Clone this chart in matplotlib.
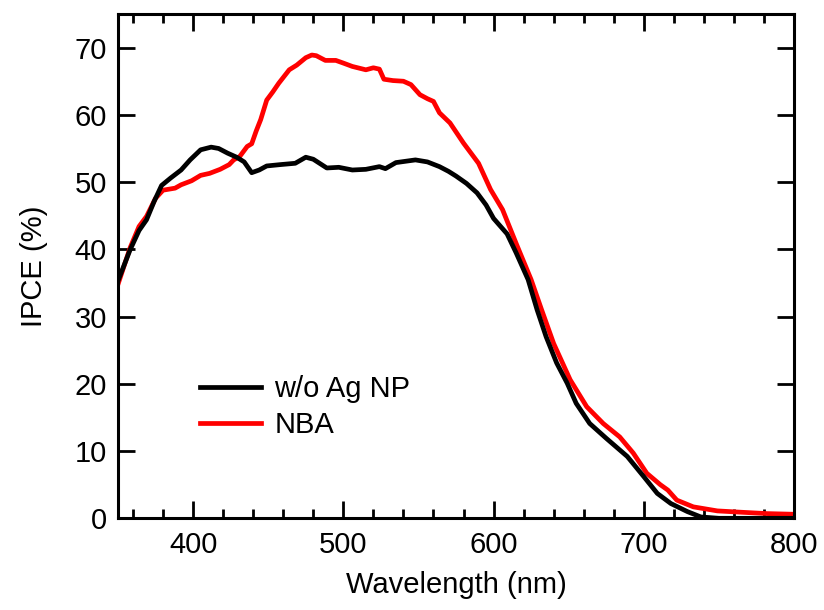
import matplotlib
matplotlib.use("Agg")
import matplotlib.pyplot as plt
from matplotlib.ticker import MultipleLocator

# Data
wl_ref = [350, 358, 364, 369, 374, 379, 385, 392, 398, 405, 412, 417, 423, 429, 434, 439,
          444, 449, 458, 468, 475, 480, 489, 497, 506, 515, 524, 528, 535, 548, 556, 564,
          570, 575, 582, 589, 595, 600, 609, 615, 623, 629, 635, 642, 649, 655, 664, 675,
          689, 700, 709, 718, 729, 738, 750, 780, 800]
ipce_ref = [35.3, 39.9, 42.8, 44.4, 47.1, 49.5, 50.6, 51.8, 53.3, 54.8, 55.2, 55.0, 54.3, 53.7, 53.0, 51.4,
            51.8, 52.4, 52.6, 52.8, 53.7, 53.4, 52.1, 52.2, 51.8, 51.9, 52.3, 52.0, 52.9, 53.3, 53.0, 52.3,
            51.6, 50.9, 49.8, 48.4, 46.6, 44.6, 42.3, 39.5, 35.5, 31.0, 27.0, 23.1, 20.1, 17.1, 14.1, 11.9,
            9.2, 6.2, 3.7, 2.2, 1.0, 0.2, 0.0, 0.0, 0.0]

wl_nba = [350, 358, 364, 369, 375, 380, 388, 392, 399, 405, 411, 418, 424, 427, 431, 436,
          439, 442, 445, 449, 453, 457, 464, 469, 475, 479, 482, 488, 495, 500, 506, 515,
          520, 524, 527, 533, 540, 545, 551, 556, 560, 564, 571, 580, 590, 598, 606, 615,
          625, 632, 640, 651, 662, 673, 684, 693, 702, 711, 716, 722, 733, 749, 765, 782, 800]
ipce_nba = [34.8, 40.2, 43.4, 44.9, 47.6, 48.8, 49.1, 49.6, 50.2, 51.0, 51.3, 51.9, 52.6, 53.3, 53.8, 55.3,
            55.7, 57.6, 59.3, 62.2, 63.4, 64.7, 66.7, 67.4, 68.5, 68.9, 68.8, 68.1, 68.1, 67.7, 67.2, 66.7,
            67.0, 66.8, 65.3, 65.1, 65.0, 64.5, 63.0, 62.4, 62.0, 60.3, 58.8, 55.8, 52.8, 48.9, 45.9, 40.9,
            35.5, 31.0, 26.0, 20.6, 16.6, 14.1, 12.1, 9.7, 6.7, 5.0, 4.2, 2.7, 1.7, 1.1, 0.9, 0.7, 0.6]

series_labels = ["w/o Ag NP", "NBA"]

plt.rcParams['font.family'] = ['Liberation Sans', 'DejaVu Sans']

fig = plt.figure(figsize=(8.24, 6.10), dpi=100)
ax = fig.add_axes([118/824, 1 - 518.3/610, (794-118)/824, (518.3-14)/610])

ax.plot(wl_nba, ipce_nba, color='#ff0000', lw=3.4, label=series_labels[1], zorder=2)
ax.plot(wl_ref, ipce_ref, color='black', lw=3.4, label=series_labels[0], zorder=3)

ax.set_xlim(350, 800)
ax.set_ylim(0, 75)
ax.xaxis.set_major_locator(MultipleLocator(100))
ax.xaxis.set_minor_locator(MultipleLocator(20))
ax.yaxis.set_major_locator(MultipleLocator(10))

for s in ax.spines.values():
    s.set_linewidth(2.2)

ax.tick_params(axis='both', which='major', direction='in', length=12, width=2.0,
               labelsize=21, top=True, right=True)
ax.tick_params(axis='x', which='major', pad=9)
ax.tick_params(axis='y', which='major', pad=8)
ax.tick_params(axis='x', which='minor', direction='in', length=6.5, width=2.0,
               top=True, bottom=True)
ax.tick_params(axis='y', which='minor', left=False, right=False)

ax.set_xlabel("Wavelength (nm)", fontsize=21, labelpad=9)
ax.set_ylabel("IPCE (%)", fontsize=21, labelpad=19)

h, l = ax.get_legend_handles_labels()
leg = ax.legend([h[1], h[0]], [l[1], l[0]], loc='upper left',
                bbox_to_anchor=((200-118)/676, 1 - (375-14)/504.3),
                frameon=False, fontsize=21, handlelength=2.1, handletextpad=0.45,
                labelspacing=0.28, borderpad=0, borderaxespad=0)

fig.savefig("out.png", dpi=100)
